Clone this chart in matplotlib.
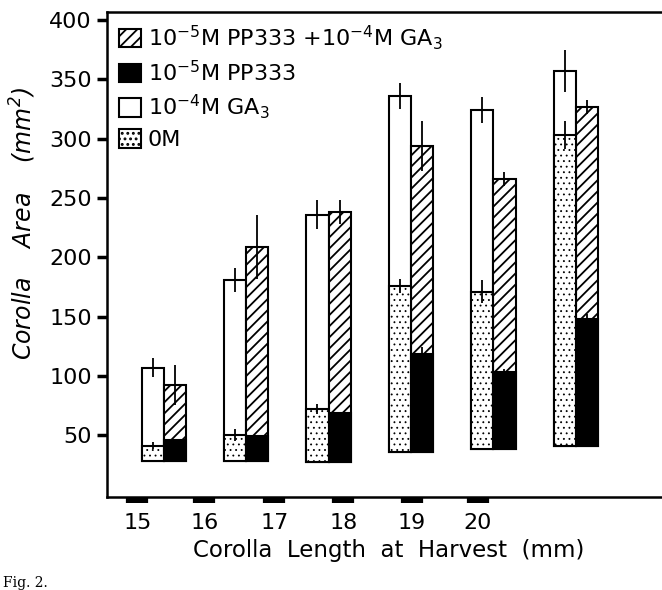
import numpy as np
import matplotlib.pyplot as plt

plt.rcParams['font.family'] = 'DejaVu Sans'
plt.rcParams['mathtext.default'] = 'regular'
plt.rcParams['hatch.linewidth'] = 1.3

# corolla length at harvest (mm)
lengths = ['15', '16', '17', '18', '19', '20']
# bars do not start at zero in the original drawing
base = [28, 28, 27, 36, 38, 41]
ctrl = [41, 50, 72, 176, 171, 303]        # 0 M
ga3 = [107, 181, 236, 336, 324, 357]      # 10^-4 M GA3
pp333 = [46, 49, 69, 118, 103, 148]       # 10^-5 M PP333
pp_ga = [92, 209, 238, 294, 266, 327]     # PP333 + GA3
ctrl_err = [3, 5, 4, 6, 10, 12]
ga3_err = [8, 10, 12, 11, 11, 18]
pp333_err = [0, 0, 0, 6, 3, 4]
pp_ga_err = [17, 27, 10, 21, 6, 6]
# the printed x labels sit a bit off the bar pairs
tick_at = [-0.32, 0.49, 1.34, 2.18, 3.01, 3.81]

x = np.arange(len(lengths))
base = np.array(base)
w = 0.27
lx, rx = x - w / 2, x + w / 2

fig = plt.figure(figsize=(6.62, 5.9), dpi=100)
ax = fig.add_axes([0.1616, 0.158, 0.85, 0.822])

ax.bar(lx, np.array(ga3) - base, w, bottom=base, color='white', edgecolor='black',
       lw=1.5, label='10$^{-4}$M GA$_3$', zorder=2)
with plt.rc_context({'hatch.linewidth': 0.6}):
    ax.bar(lx, np.array(ctrl) - base, w, bottom=base, color='white', edgecolor='black',
           hatch='...', lw=1.5, label='0M', zorder=3)
ax.bar(rx, np.array(pp_ga) - base, w, bottom=base, color='white', edgecolor='black',
       hatch='///', lw=1.5, label='10$^{-5}$M PP333 +10$^{-4}$M GA$_3$', zorder=2)
ax.bar(rx, np.array(pp333) - base, w, bottom=base, color='black', edgecolor='black',
       lw=1.5, label='10$^{-5}$M PP333', zorder=3)

for xs, ys, es in [(lx, ga3, ga3_err), (lx, ctrl, ctrl_err),
                   (rx, pp_ga, pp_ga_err), (rx, pp333, pp333_err)]:
    ax.errorbar(xs, ys, yerr=es, fmt='none', ecolor='black', elinewidth=1.3,
                capsize=0, zorder=4)

ax.set_xlim(-0.69, 6.14)
ax.set_ylim(-2, 407)
ax.set_yticks([50, 100, 150, 200, 250, 300, 350, 400])
ax.set_xticks(tick_at)
ax.set_xticklabels(lengths)
ax.tick_params(axis='y', direction='out', length=7, width=2.5, labelsize=16, pad=4)
ax.tick_params(axis='x', direction='out', length=4, width=16, labelsize=16, pad=8)
for s in ['left', 'bottom', 'top']:
    ax.spines[s].set_linewidth(1.8)
ax.spines['right'].set_visible(False)

ax.set_xlabel('Corolla  Length  at  Harvest  (mm)', fontsize=16.5, labelpad=4)
fig.text(0.034, 0.622, 'Corolla    Area    (mm$^2$)', rotation=90, fontsize=17,
         style='italic', ha='center', va='center')
fig.text(0.005, 0.005, 'Fig. 2.', fontsize=10, family='DejaVu Serif')

handles, labels = ax.get_legend_handles_labels()
order = [2, 3, 0, 1]
ax.legend([handles[i] for i in order], [labels[i] for i in order],
          loc='upper left', bbox_to_anchor=(0.005, 0.995), frameon=False,
          fontsize=16, handlelength=1.0, handleheight=0.9, handletextpad=0.3,
          labelspacing=0.35, borderaxespad=0.2, borderpad=0.2)

fig.savefig('out.png', dpi=100)
